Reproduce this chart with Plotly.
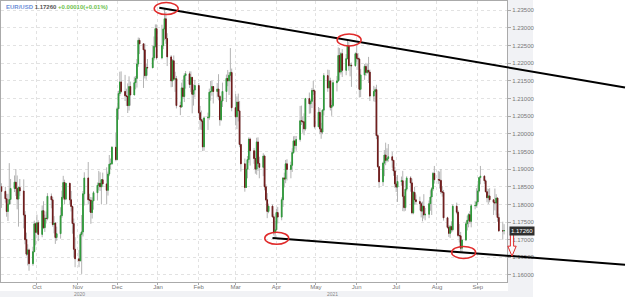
import pandas as pd
import plotly.graph_objects as go

symbol = "EUR/USD"
first_open = 1.1850
holidays = ["2020-12-25", "2021-01-01"]

# daily closes, Sep 4 2020 .. Sep 21 2021 (one row per month)
closes = [
    1.1837, 1.1816, 1.1780, 1.1801, 1.1814, 1.1845, 1.1863, 1.1845, 1.1815, 1.1848, 1.1838, 1.1770, 1.1700, 1.1659, 1.1671, 1.1632, 1.1666, 1.1745, 1.1721,
    1.1748, 1.1715, 1.1782, 1.1734, 1.1761, 1.1760, 1.1823, 1.1813, 1.1743, 1.1747, 1.1706, 1.1717, 1.1768, 1.1820, 1.1862, 1.1815, 1.1860, 1.1813, 1.1794, 1.1746, 1.1673, 1.1646,
    1.1640, 1.1715, 1.1722, 1.1830, 1.1875, 1.1813, 1.1812, 1.1777, 1.1810, 1.1833, 1.1854, 1.1860, 1.1850, 1.1870, 1.1858, 1.1840, 1.1886, 1.1914, 1.1915, 1.1962, 1.1927,
    1.2071, 1.2114, 1.2147, 1.2120, 1.2108, 1.2106, 1.2080, 1.2134, 1.2110, 1.2145, 1.2157, 1.2198, 1.2265, 1.2255, 1.2238, 1.2165, 1.2188, 1.2187, 1.2215, 1.2248, 1.2298, 1.2215,
    1.2250, 1.2297, 1.2326, 1.2270, 1.2218, 1.2150, 1.2207, 1.2155, 1.2156, 1.2080, 1.2076, 1.2130, 1.2106, 1.2165, 1.2170, 1.2140, 1.2160, 1.2112, 1.2124, 1.2137,
    1.2060, 1.2040, 1.2036, 1.1963, 1.2045, 1.2047, 1.2118, 1.2120, 1.2134, 1.2120, 1.2127, 1.2106, 1.2040, 1.2093, 1.2120, 1.2157, 1.2150, 1.2166, 1.2174, 1.2074,
    1.2048, 1.2090, 1.2065, 1.1970, 1.1915, 1.1848, 1.1900, 1.1927, 1.1985, 1.1952, 1.1930, 1.1900, 1.1977, 1.1916, 1.1905, 1.1937, 1.1850, 1.1813, 1.1780, 1.1795, 1.1765, 1.1720, 1.1728,
    1.1777, 1.1764, 1.1813, 1.1875, 1.1872, 1.1915, 1.1899, 1.1911, 1.1947, 1.1980, 1.1967, 1.1984, 1.2037, 1.2036, 1.2034, 1.2014, 1.2100, 1.2085, 1.2092, 1.2123, 1.2122, 1.2020,
    1.2061, 1.2014, 1.2005, 1.2067, 1.2165, 1.2130, 1.2150, 1.2075, 1.2080, 1.2145, 1.2150, 1.2222, 1.2175, 1.2227, 1.2180, 1.2213, 1.2249, 1.2193, 1.2194, 1.2193, 1.2227,
    1.2214, 1.2212, 1.2126, 1.2167, 1.2191, 1.2174, 1.2180, 1.2175, 1.2107, 1.2120, 1.2125, 1.1995, 1.1907, 1.1864, 1.1917, 1.1940, 1.1925, 1.1930, 1.1935, 1.1925, 1.1895, 1.1858,
    1.1849, 1.1865, 1.1867, 1.1823, 1.1791, 1.1843, 1.1875, 1.1861, 1.1776, 1.1834, 1.1813, 1.1808, 1.1802, 1.1781, 1.1795, 1.1770, 1.1772, 1.1802, 1.1821, 1.1844, 1.1888, 1.1870,
    1.1870, 1.1868, 1.1836, 1.1834, 1.1762, 1.1735, 1.1718, 1.1737, 1.1728, 1.1795, 1.1778, 1.1712, 1.1711, 1.1676, 1.1699, 1.1745, 1.1755, 1.1771, 1.1752, 1.1796, 1.1797, 1.1807,
    1.1838, 1.1876, 1.1880, 1.1867, 1.1836, 1.1819, 1.1824, 1.1813, 1.1806, 1.1804, 1.1818, 1.1763, 1.1725, 1.1725, 1.1726,
]

highs = [
    1.1860, 1.1850, 1.1830, 1.1830, 1.1917, 1.1872, 1.1882, 1.1900, 1.1882, 1.1851, 1.1872, 1.1871, 1.1781, 1.1720, 1.1687, 1.1675, 1.1680, 1.1754, 1.1749,
    1.1771, 1.1755, 1.1797, 1.1809, 1.1771, 1.1780, 1.1832, 1.1831, 1.1821, 1.1767, 1.1750, 1.1737, 1.1792, 1.1839, 1.1881, 1.1870, 1.1860, 1.1860, 1.1838, 1.1797, 1.1760, 1.1707,
    1.1671, 1.1720, 1.1770, 1.1838, 1.1891, 1.1920, 1.1830, 1.1821, 1.1820, 1.1838, 1.1862, 1.1895, 1.1891, 1.1871, 1.1890, 1.1905, 1.1893, 1.1940, 1.1930, 1.1965, 1.2004,
    1.2077, 1.2122, 1.2176, 1.2177, 1.2167, 1.2128, 1.2143, 1.2163, 1.2148, 1.2162, 1.2164, 1.2212, 1.2273, 1.2272, 1.2251, 1.2256, 1.2198, 1.2212, 1.2250, 1.2276, 1.2310, 1.2310,
    1.2309, 1.2299, 1.2355, 1.2345, 1.2285, 1.2223, 1.2212, 1.2222, 1.2176, 1.2164, 1.2091, 1.2145, 1.2154, 1.2172, 1.2178, 1.2177, 1.2177, 1.2160, 1.2140, 1.2153,
    1.2144, 1.2079, 1.2066, 1.2043, 1.2050, 1.2060, 1.2128, 1.2150, 1.2150, 1.2130, 1.2144, 1.2169, 1.2110, 1.2097, 1.2145, 1.2168, 1.2181, 1.2175, 1.2243, 1.2185,
    1.2113, 1.2106, 1.2114, 1.2093, 1.1967, 1.1930, 1.1916, 1.1937, 1.1990, 1.1989, 1.1960, 1.1952, 1.1989, 1.1990, 1.1935, 1.1945, 1.1941, 1.1857, 1.1832, 1.1802, 1.1800, 1.1772, 1.1753,
    1.1788, 1.1793, 1.1820, 1.1877, 1.1890, 1.1926, 1.1928, 1.1921, 1.1959, 1.1993, 1.1994, 1.1994, 1.2079, 1.2080, 1.2049, 1.2058, 1.2102, 1.2117, 1.2097, 1.2130, 1.2150, 1.2126,
    1.2076, 1.2073, 1.2031, 1.2070, 1.2172, 1.2182, 1.2181, 1.2159, 1.2097, 1.2153, 1.2164, 1.2245, 1.2243, 1.2232, 1.2240, 1.2226, 1.2266, 1.2260, 1.2201, 1.2202, 1.2231,
    1.2254, 1.2229, 1.2216, 1.2184, 1.2198, 1.2201, 1.2198, 1.2218, 1.2182, 1.2136, 1.2132, 1.2139, 1.2000, 1.1909, 1.1921, 1.1954, 1.1975, 1.1959, 1.1971, 1.1949, 1.1924, 1.1906,
    1.1878, 1.1883, 1.1879, 1.1895, 1.1835, 1.1868, 1.1880, 1.1880, 1.1873, 1.1838, 1.1850, 1.1828, 1.1822, 1.1807, 1.1808, 1.1829, 1.1790, 1.1811, 1.1840, 1.1849, 1.1892, 1.1909,
    1.1895, 1.1893, 1.1900, 1.1852, 1.1841, 1.1765, 1.1741, 1.1742, 1.1752, 1.1800, 1.1805, 1.1783, 1.1745, 1.1722, 1.1702, 1.1751, 1.1768, 1.1775, 1.1781, 1.1801, 1.1810, 1.1846,
    1.1857, 1.1877, 1.1909, 1.1883, 1.1871, 1.1845, 1.1844, 1.1846, 1.1815, 1.1845, 1.1829, 1.1820, 1.1774, 1.1751, 1.1744,
]

lows = [
    1.1790, 1.1805, 1.1765, 1.1753, 1.1805, 1.1800, 1.1835, 1.1824, 1.1786, 1.1737, 1.1824, 1.1732, 1.1687, 1.1653, 1.1627, 1.1612, 1.1626, 1.1665, 1.1684,
    1.1717, 1.1696, 1.1707, 1.1730, 1.1722, 1.1746, 1.1755, 1.1789, 1.1737, 1.1718, 1.1688, 1.1697, 1.1703, 1.1762, 1.1813, 1.1800, 1.1812, 1.1800, 1.1780, 1.1717, 1.1650, 1.1622,
    1.1622, 1.1641, 1.1603, 1.1709, 1.1797, 1.1800, 1.1778, 1.1745, 1.1760, 1.1785, 1.1811, 1.1840, 1.1838, 1.1800, 1.1849, 1.1800, 1.1825, 1.1880, 1.1900, 1.1912, 1.1922,
    1.1925, 1.2040, 1.2107, 1.2115, 1.2093, 1.2079, 1.2059, 1.2066, 1.2080, 1.2110, 1.2126, 1.2131, 1.2190, 1.2226, 1.2130, 1.2157, 1.2153, 1.2165, 1.2190, 1.2208, 1.2244, 1.2210,
    1.2211, 1.2240, 1.2265, 1.2255, 1.2192, 1.2132, 1.2133, 1.2150, 1.2119, 1.2072, 1.2053, 1.2074, 1.2100, 1.2090, 1.2128, 1.2130, 1.2118, 1.2058, 1.2080, 1.2103,
    1.2055, 1.2012, 1.2011, 1.1951, 1.1952, 1.2011, 1.2040, 1.2094, 1.2108, 1.2086, 1.2103, 1.2095, 1.2023, 1.2036, 1.2076, 1.2090, 1.2135, 1.2110, 1.2148, 1.2064,
    1.2024, 1.2013, 1.2035, 1.1962, 1.1893, 1.1836, 1.1847, 1.1874, 1.1918, 1.1910, 1.1915, 1.1887, 1.1884, 1.1895, 1.1874, 1.1880, 1.1840, 1.1809, 1.1761, 1.1775, 1.1762, 1.1712, 1.1704,
    1.1725, 1.1746, 1.1755, 1.1793, 1.1848, 1.1860, 1.1868, 1.1874, 1.1892, 1.1943, 1.1958, 1.1952, 1.1978, 1.2025, 1.2003, 1.1996, 1.2009, 1.2057, 1.2058, 1.2073, 1.2110, 1.2015,
    1.2020, 1.1999, 1.1986, 1.1999, 1.2052, 1.2119, 1.2128, 1.2066, 1.2051, 1.2076, 1.2120, 1.2147, 1.2152, 1.2168, 1.2161, 1.2166, 1.2211, 1.2179, 1.2163, 1.2133, 1.2190,
    1.2204, 1.2181, 1.2103, 1.2104, 1.2153, 1.2164, 1.2170, 1.2144, 1.2093, 1.2092, 1.2090, 1.1985, 1.1904, 1.1847, 1.1852, 1.1880, 1.1911, 1.1919, 1.1921, 1.1904, 1.1881, 1.1847,
    1.1835, 1.1807, 1.1853, 1.1781, 1.1780, 1.1782, 1.1837, 1.1836, 1.1772, 1.1772, 1.1799, 1.1800, 1.1783, 1.1763, 1.1752, 1.1760, 1.1755, 1.1761, 1.1782, 1.1770, 1.1838, 1.1859,
    1.1858, 1.1845, 1.1829, 1.1822, 1.1754, 1.1731, 1.1708, 1.1705, 1.1720, 1.1723, 1.1772, 1.1707, 1.1692, 1.1667, 1.1664, 1.1696, 1.1726, 1.1735, 1.1745, 1.1735, 1.1786, 1.1791,
    1.1800, 1.1834, 1.1857, 1.1858, 1.1834, 1.1806, 1.1801, 1.1806, 1.1770, 1.1783, 1.1769, 1.1751, 1.1722, 1.1700, 1.1715,
]

month_ticks = ["2020-10-01", "2020-11-01", "2020-12-01", "2021-01-01", "2021-02-01", "2021-03-01",
               "2021-04-01", "2021-05-01", "2021-06-01", "2021-07-01", "2021-08-01", "2021-09-01"]
month_labels = ["Oct", "Nov", "Dec", "Jan", "Feb", "Mar", "Apr", "May", "Jun", "Jul", "Aug", "Sep"]
year_labels = ["2020", "2021"]

# ---------------------------------------------------------------------------
dates = [d for d in pd.bdate_range("2020-09-04", "2021-09-21") if d.strftime("%Y-%m-%d") not in holidays]
assert len(dates) == len(closes) == len(highs) == len(lows), (len(dates), len(closes), len(highs), len(lows))
opens = [first_open] + closes[:-1]
wick_hi = [max(h, o, c) for h, o, c in zip(highs, opens, closes)]
wick_lo = [min(l, o, c) for l, o, c in zip(lows, opens, closes)]
body_hi = [max(o, c) for o, c in zip(opens, closes)]
body_lo = [min(o, c) for o, c in zip(opens, closes)]

W, H = 643, 297
ML, MR, MT, MB = 1, 136, 1, 15
PW, PH = W - ML - MR, H - MT - MB
X0, X1 = pd.Timestamp("2020-09-03 17:00"), pd.Timestamp("2021-09-23 05:00")
Y0, Y1 = 1.15801, 1.23764


def paper_x(t):
    return (pd.Timestamp(t) - X0) / (X1 - X0)


def paper_y(p):
    return (p - Y0) / (Y1 - Y0)


def pix_px(px):  # pixel column -> paper x
    return (px - ML) / PW


def pix_py(py):  # pixel row -> paper y
    return (H - MB - py) / PH


df = pd.DataFrame({"d": dates, "h": wick_hi, "l": wick_lo})
jan_peak = df[df.d < "2021-03-01"].h.idxmax()
may_peak = df[(df.d >= "2021-04-01") & (df.d < "2021-07-01")].h.idxmax()
mar_low = df[(df.d >= "2021-03-01") & (df.d < "2021-05-01")].l.idxmin()
aug_low = df[df.d >= "2021-07-01"].l.idxmin()

fig = go.Figure()
fig.add_trace(go.Candlestick(
    x=dates, open=opens, high=wick_hi, low=wick_lo, close=closes,
    increasing=dict(line=dict(color="#b3b3b3", width=1), fillcolor="#b3b3b3"),
    decreasing=dict(line=dict(color="#b3b3b3", width=1), fillcolor="#b3b3b3"),
    whiskerwidth=0, hoverinfo="skip", showlegend=False))
fig.add_trace(go.Candlestick(
    x=dates, open=opens, high=body_hi, low=body_lo, close=closes,
    increasing=dict(line=dict(color="#2f9a3a", width=1), fillcolor="#3aa646"),
    decreasing=dict(line=dict(color="#6e1a1a", width=1), fillcolor="#8c2a2a"),
    whiskerwidth=0, hoverinfo="skip", showlegend=False))

shapes = []
# grey label backgrounds
shapes.append(dict(type="rect", xref="paper", yref="paper", layer="below",
                   x0=pix_px(508), x1=pix_px(533), y0=pix_py(297), y1=pix_py(0),
                   fillcolor="#f1f2f5", line=dict(width=0)))
shapes.append(dict(type="rect", xref="paper", yref="paper", layer="below",
                   x0=pix_px(0), x1=pix_px(533), y0=pix_py(297), y1=pix_py(291),
                   fillcolor="#f1f2f5", line=dict(width=0)))


def trend(i_a, i_b, va, vb, days_before):
    xa, ya = paper_x(dates[i_a]), paper_y(va)
    xb, yb = paper_x(dates[i_b]), paper_y(vb)
    slope = (yb - ya) / (xb - xa)
    xs = paper_x(dates[i_a] - pd.Timedelta(days=days_before))
    xe = pix_px(625)
    return xs, ya + slope * (xs - xa), xe, ya + slope * (xe - xa), (xa, ya, slope)


ux0, uy0, ux1, uy1, _ = trend(jan_peak, may_peak, wick_hi[jan_peak], wick_hi[may_peak], 4)
lx0, ly0, lx1, ly1, (lxa, lya, lsl) = trend(mar_low, aug_low, wick_lo[mar_low], wick_lo[aug_low], 2)
for a in [(ux0, uy0, ux1, uy1), (lx0, ly0, lx1, ly1)]:
    shapes.append(dict(type="line", xref="paper", yref="paper", x0=a[0], y0=a[1], x1=a[2], y1=a[3],
                       line=dict(color="black", width=2)))

# red ellipses around the touch points
for i, v in [(jan_peak, wick_hi[jan_peak]), (may_peak, wick_hi[may_peak]),
             (mar_low, wick_lo[mar_low]), (aug_low, wick_lo[aug_low])]:
    shapes.append(dict(type="circle", xref="x", yref="y", xsizemode="pixel", ysizemode="pixel",
                       xanchor=dates[i] + pd.Timedelta(hours=30), yanchor=v,
                       x0=-12, x1=12, y0=-6, y1=6, line=dict(color="#e02a2a", width=1.5)))

# hollow red arrow from last price down to the lower trend line
cx = pix_px(512)
top = paper_y(closes[-1]) - 3.5 / PH
tip = lya + lsl * (cx - lxa)
hb = tip + 10 / PH
sw, hw = 1.6 / PW, 4.2 / PW
path = (f"M {cx - sw},{top} L {cx + sw},{top} L {cx + sw},{hb} L {cx + hw},{hb} "
        f"L {cx},{tip} L {cx - hw},{hb} L {cx - sw},{hb} Z")
shapes.append(dict(type="path", xref="paper", yref="paper", path=path,
                   line=dict(color="#e02a2a", width=1), fillcolor="rgba(255,255,255,0.6)"))

annotations = []
last, prev = closes[-1], closes[-2]
chg = last - prev
pct = chg / prev * 100
annotations.append(dict(
    xref="paper", yref="paper", x=pix_px(4), y=pix_py(7), xanchor="left", yanchor="middle",
    showarrow=False, font=dict(family="Liberation Sans", size=6),
    text=(f"<b><span style='color:#6e8fd8'>{symbol}</span></b> "
          f"<b><span style='color:#555555'>{last:.5f}</span></b> "
          f"<b><span style='color:#6cbf4c'>{chg:+.5f}({pct:+.2f}%)</span></b>")))
annotations.append(dict(
    xref="paper", yref="y", x=pix_px(508.5), y=last, xanchor="left", yanchor="middle",
    showarrow=False, text=f"{last:.5f}", bgcolor="#2e2e2e", borderpad=1,
    font=dict(family="Liberation Sans", size=6, color="white")))
# year labels centred under the visible part of each year
for yl in year_labels:
    a = max(pd.Timestamp(f"{yl}-01-01"), X0)
    b = min(pd.Timestamp(f"{int(yl) + 1}-01-01"), X1)
    annotations.append(dict(xref="x", yref="paper", x=a + (b - a) / 2, y=pix_py(298.5),
                            xanchor="center", yanchor="bottom", showarrow=False, text=yl,
                            font=dict(family="Liberation Sans", size=5, color="#888")))

fig.update_layout(
    width=W, height=H, margin=dict(l=ML, r=MR, t=MT, b=MB, pad=0),
    paper_bgcolor="white", plot_bgcolor="white", showlegend=False,
    font=dict(family="Liberation Sans", size=6, color="#777"),
    shapes=shapes, annotations=annotations,
)
fig.update_xaxes(
    type="date", range=[X0, X1], tickvals=month_ticks, ticktext=month_labels,
    ticks="outside", ticklen=2, tickcolor="#aaa", showgrid=True, gridcolor="#e2e2e2",
    griddash="dot", showline=True, linecolor="#aaa", mirror=True, zeroline=False,
    ticklabelstandoff=-3,
    rangeslider=dict(visible=False), tickfont=dict(size=6, color="#777"))
fig.update_yaxes(
    side="right", range=[Y0, Y1], tick0=1.16, dtick=0.005, tickformat=".5f",
    ticks="outside", ticklen=3, tickcolor="#aaa", showgrid=True, gridcolor="#e2e2e2",
    griddash="dot", showline=True, linecolor="#aaa", mirror=True, zeroline=False,
    tickfont=dict(size=6, color="#777"))

fig.write_html("out.html")
